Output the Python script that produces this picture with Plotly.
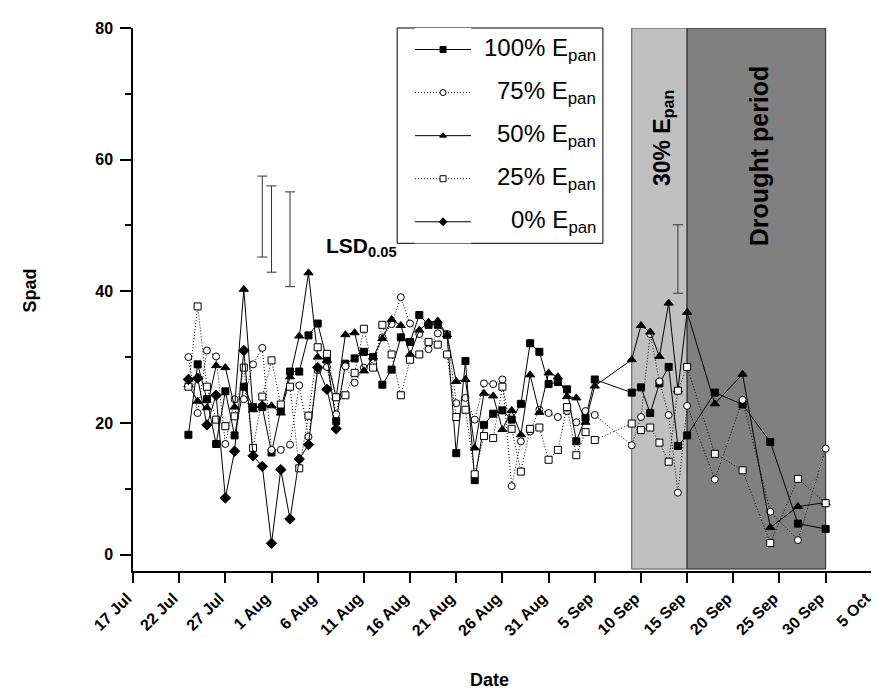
import plotly.graph_objects as go
import datetime as dt

# ---- data ----
dates = (
    [(dt.date(2009, 7, 23) + dt.timedelta(days=i)).isoformat() for i in range(45)]
    + [(dt.date(2009, 9, 9) + dt.timedelta(days=i)).isoformat() for i in range(7)]
    + ["2009-09-18", "2009-09-21", "2009-09-24", "2009-09-27", "2009-09-30"]
)

e100 = [18.2, 28.9, 23.6, 16.8, 24.8, 18.1, 25.5, 22.4, 22.4, 15.5,
        22.0, 27.8, 27.8, 33.3, 35.1, 29.6, 20.3, 29.0, 29.8, 30.8,
        30.0, 25.8, 28.1, 33.0, 32.3, 36.4, 34.9, 34.9, 33.4, 15.4,
        29.4, 11.3, 19.7, 21.4, 21.9, 20.5, 22.9, 32.1, 30.8, 25.9,
        26.2, 25.1, 17.2, 20.8, 26.6,
        24.6, 25.4, 21.5, 26.0, 28.5, 16.5, 18.1,
        24.6, 22.8, 17.1, 4.7, 3.9]
e75 = [30.0, 21.5, 31.0, 30.1, 16.8, 23.6, 23.6, 28.9, 31.4, 15.9,
       15.9, 16.7, 25.7, 17.9, 28.0, 28.5, 21.3, 28.6, 26.1, 28.4,
       29.1, 33.0, 35.0, 39.1, 35.1, 33.5, 31.2, 33.6, 33.5, 23.0,
       23.8, 20.5, 26.0, 25.9, 26.6, 10.4, 17.2, 18.7, 22.0, 21.5,
       20.9, 21.8, 20.1, 21.8, 21.2,
       16.6, 20.9, 33.5, 26.3, 21.2, 9.4, 22.6,
       11.4, 23.5, 6.5, 2.2, 16.1]
e50 = [25.8, 23.3, 22.3, 28.7, 28.4, 22.4, 40.3, 22.0, 22.8, 22.6,
       21.5, 27.0, 33.2, 42.8, 30.0, 29.5, 23.9, 33.4, 33.7, 27.9,
       30.0, 32.8, 35.7, 34.8, 30.4, 34.1, 35.3, 35.5, 33.4, 26.3,
       26.6, 16.2, 24.5, 24.1, 19.0, 21.9, 18.2, 27.3, 21.6, 27.6,
       27.0, 24.0, 23.8, 20.1, 25.6,
       29.6, 34.8, 33.8, 30.1, 38.2, 25.0, 36.8,
       22.9, 27.4, 4.1, 7.3, 7.9]
e25 = [25.5, 37.7, 25.5, 20.5, 19.5, 21.0, 28.4, 16.2, 24.0, 29.5,
       22.8, 25.5, 13.1, 21.1, 31.5, 30.5, 23.9, 24.2, 27.6, 34.3,
       28.4, 34.9, 30.4, 24.2, 29.6, 30.4, 32.3, 31.9, 30.4, 20.9,
       22.0, 12.2, 18.0, 17.7, 25.5, 19.1, 12.6, 19.1, 19.3, 14.4,
       15.9, 22.4, 15.1, 18.6, 17.4,
       19.9, 18.9, 19.3, 17.0, 14.1, 24.9, 28.5,
       15.3, 12.8, 1.75, 11.5, 7.8]
e0 = [26.6, 26.8, 19.7, 24.2, 8.6, 15.7, 31.0, 15.0, 13.4, 1.7,
      12.9, 5.4, 14.5, 16.7, 28.4, 25.1, 19.1] + [None] * 40

series_names = ["100% E<sub>pan</sub>", "75% E<sub>pan</sub>", "50% E<sub>pan</sub>",
                "25% E<sub>pan</sub>", "0% E<sub>pan</sub>"]
series_values = [e100, e75, e50, e25, e0]
series_symbols = ["square", "circle", "triangle-up", "square", "diamond"]
series_fill = ["black", "white", "black", "white", "black"]
series_dash = ["solid", "1px,2px", "solid", "1px,2px", "solid"]
series_sizes = [7, 7, 8, 7, 8]

# LSD bars (date, centre, half-width)
lsd_dates = ["2009-07-31", "2009-08-01", "2009-08-03", "2009-09-14"]
lsd_centre = [51.35, 49.45, 47.9, 44.9]
lsd_half = [6.15, 6.55, 7.2, 5.2]

tick_dates = [(dt.date(2009, 7, 17) + dt.timedelta(days=5 * i)).isoformat() for i in range(17)]
tick_labels = ["17 Jul", "22 Jul", "27 Jul", "1 Aug", "6 Aug", "11 Aug", "16 Aug", "21 Aug",
               "26 Aug", "31 Aug", "5 Sep", "10 Sep", "15 Sep", "20 Sep", "25 Sep", "30 Sep", "5 Oct"]

FONT = "Arial, Liberation Sans, sans-serif"

fig = go.Figure()

# shaded periods
fig.add_shape(type="rect", xref="x", yref="y", x0="2009-09-09", x1="2009-09-15",
              y0=-2.2, y1=80, fillcolor="#c0c0c0", line=dict(color="#555555", width=1),
              layer="below")
fig.add_shape(type="rect", xref="x", yref="y", x0="2009-09-15", x1="2009-09-30",
              y0=-2.2, y1=80, fillcolor="#808080", line=dict(color="#222222", width=1),
              layer="below")

for name, vals, sym, fill, dash, sz in zip(series_names, series_values, series_symbols,
                                           series_fill, series_dash, series_sizes):
    fig.add_trace(go.Scatter(
        x=dates, y=vals, name=name, mode="lines+markers",
        line=dict(color="black", width=1, dash=dash),
        marker=dict(symbol=sym, size=sz, color=fill, line=dict(color="black", width=1)),
        connectgaps=False, showlegend=False))

fig.add_trace(go.Scatter(
    x=lsd_dates, y=lsd_centre, mode="markers",
    marker=dict(size=1, color="rgba(0,0,0,0)"),
    error_y=dict(type="data", array=lsd_half, color="#333333", thickness=1, width=5),
    showlegend=False, hoverinfo="skip"))

# ---- custom legend drawn on a helper axis ----
leg_y = [4.5, 3.5, 2.5, 1.5, 0.5]
for name, sym, fill, dash, yy in zip(series_names, series_symbols, series_fill,
                                     series_dash, leg_y):
    fig.add_trace(go.Scatter(
        x=[0.0, 0.5, 1.0], y=[yy, yy, yy], xaxis="x2", yaxis="y2",
        mode="lines", line=dict(color="black", width=1, dash=dash),
        showlegend=False, hoverinfo="skip"))
    fig.add_trace(go.Scatter(
        x=[0.5], y=[yy], xaxis="x2", yaxis="y2", mode="markers",
        marker=dict(symbol=sym, size=6, color=fill, line=dict(color="black", width=1)),
        showlegend=False, hoverinfo="skip"))
    fig.add_annotation(xref="paper", yref="y2", x=0.628, y=yy, text=name,
                       showarrow=False, xanchor="right", yanchor="middle",
                       font=dict(family=FONT, size=24, color="black"))

fig.add_shape(type="rect", xref="paper", yref="paper", x0=0.357, x1=0.635,
              y0=0.6035, y1=1.0, line=dict(color="black", width=1), fillcolor="white",
              layer="below")

annotations_extra = [
    dict(xref="paper", yref="paper", x=0.258, y=0.596, text="<b>LSD<sub>0.05</sub></b>",
         xanchor="left", yanchor="middle", font=dict(size=21)),
    dict(xref="paper", yref="paper", x=0.716, y=0.797, text="<b>30% E<sub>pan</sub></b>",
         textangle=-90, xanchor="center", yanchor="middle", font=dict(size=23)),
    dict(xref="paper", yref="paper", x=0.846, y=0.764, text="<b>Drought period</b>",
         textangle=-90, xanchor="center", yanchor="middle", font=dict(size=25)),
    dict(xref="paper", yref="paper", x=-0.139, y=0.517, text="<b>Spad</b>",
         textangle=-90, xanchor="center", yanchor="middle", font=dict(size=18)),
    dict(xref="paper", yref="paper", x=0.482, y=-0.2, text="<b>Date</b>",
         xanchor="center", yanchor="middle", font=dict(size=18)),
]
for a in annotations_extra:
    a["showarrow"] = False
    a["font"].update(family=FONT, color="black")
    fig.add_annotation(**a)

fig.update_layout(
    width=871, height=685,
    margin=dict(l=125, r=6, t=19.5, b=122, autoexpand=False),
    paper_bgcolor="white", plot_bgcolor="white",
    font=dict(family=FONT, color="black"),
    xaxis=dict(type="date", range=["2009-07-17", "2009-10-05 03:00"],
               tickvals=tick_dates, ticktext=tick_labels, tickangle=-45,
               ticklabeloverflow="allow", automargin=False, ticklabelshift=-6,
               showgrid=False, zeroline=False, showline=True, linecolor="black",
               linewidth=1.5, ticks="outside", ticklen=10, tickwidth=1.5, tickcolor="black",
               tickfont=dict(family=FONT, size=16, weight="bold")),
    yaxis=dict(range=[-2.5, 80], tickvals=[0, 20, 40, 60, 80], automargin=False,
               showgrid=False, zeroline=False, showline=True, linecolor="black",
               linewidth=1.5, ticks="outside", ticklen=11, tickwidth=1.5, tickcolor="black",
               ticklabelstandoff=4,
               tickfont=dict(family=FONT, size=16, weight="bold"),
               minor=dict(tickvals=[10, 30, 50, 70], ticks="outside", ticklen=6,
                          tickwidth=1.5, tickcolor="black")),
    xaxis2=dict(domain=[0.381, 0.457], range=[0, 1], visible=False, anchor="y2",
                fixedrange=True),
    yaxis2=dict(domain=[0.6035, 1.0], range=[0, 5], visible=False, anchor="x2",
                fixedrange=True),
)

fig.write_html("out.html")
